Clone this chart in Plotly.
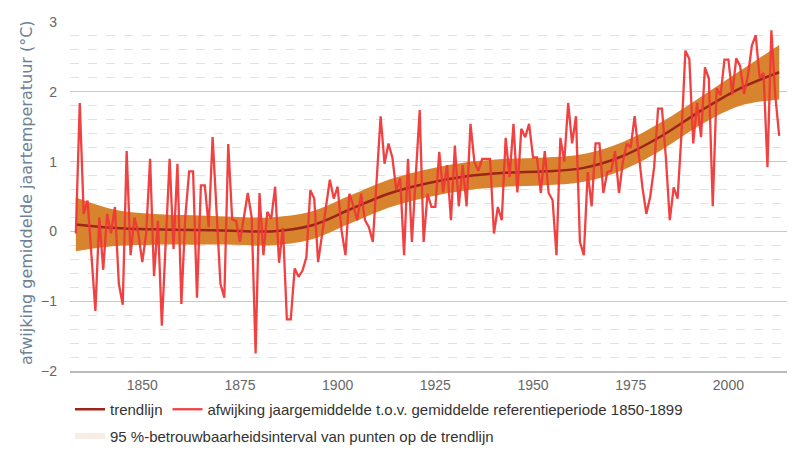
import plotly.graph_objects as go

# --- data -------------------------------------------------------------
years = list(range(1833, 2014))
anomaly = [
    -0.03, 1.84, 0.25, 0.44, -0.35, -1.14, 0.20, -0.55, 0.25, -0.03,
    0.35, -0.75, -1.05, 1.15, -0.34, 0.20, -0.03, -0.44, -0.03, 1.04,
    -0.64, 0.15, -1.35, -0.15, 1.04, -0.25, 0.97, -1.04, 0.20, 0.86,
    0.86, -0.95, 0.66, 0.66, 0.06, 1.35, 0.25, -0.75, -0.95, 1.25,
    0.17, 0.15, -0.15, 0.20, 0.55, 0.20, -1.75, 0.55, -0.34, 0.28,
    0.18, 0.64, -0.45, 0.05, -1.26, -1.26, -0.53, -0.65, -0.56, -0.37,
    0.59, 0.47, -0.44, -0.05, 0.35, 0.74, 0.47, 0.64, 0.01, -0.34,
    0.54, 0.37, 0.16, 0.54, 0.16, 0.06, -0.15, 0.75, 1.65, 0.97,
    1.26, 1.06, 0.59, 0.76, -0.34, 1.04, -0.15, 0.80, 1.74, -0.15,
    0.54, 0.35, 0.35, 1.14, 0.56, 0.95, 0.16, 1.23, 0.36, 0.95,
    0.36, 1.54, 0.99, 0.87, 1.04, 1.04, 1.04, -0.03, 0.35, 0.16,
    1.34, 0.78, 1.54, 0.56, 1.47, 1.35, 1.54, 1.06, 1.06, 0.55,
    1.15, 0.55, 0.45, -0.34, 1.34, 1.00, 1.84, 1.26, 1.65, -0.15,
    -0.34, 0.85, 0.36, 1.26, 1.26, 0.55, 0.85, 0.87, 1.15, 0.55,
    1.00, 1.26, 1.20, 1.65, 1.11, 0.63, 0.25, 0.50, 0.92, 1.76,
    1.76, 1.06, 0.16, 0.63, 0.47, 1.40, 2.59, 2.47, 1.26, 1.84,
    1.35, 2.35, 2.19, 0.36, 2.05, 1.95, 2.46, 2.46, 1.96, 2.48,
    2.37, 1.97, 2.23, 2.66, 2.81, 2.20, 2.27, 0.92, 2.88, 1.95,
    1.37,
]

trend_years = [1833, 1843, 1853, 1863, 1873, 1883, 1893, 1903, 1913, 1923,
               1933, 1943, 1953, 1963, 1973, 1983, 1993, 2003, 2013]
trend = [0.10, 0.05, 0.03, 0.02, 0.01, 0.00, 0.08, 0.31, 0.54, 0.69,
         0.79, 0.84, 0.86, 0.91, 1.08, 1.37, 1.73, 2.05, 2.28]
band_upper = [0.485, 0.31, 0.25, 0.23, 0.21, 0.20, 0.28, 0.51, 0.74, 0.89,
              0.99, 1.04, 1.06, 1.11, 1.28, 1.57, 1.93, 2.30, 2.67]
band_lower = [-0.285, -0.21, -0.19, -0.19, -0.19, -0.20, -0.12, 0.11, 0.34, 0.49,
              0.59, 0.64, 0.66, 0.71, 0.88, 1.17, 1.53, 1.80, 1.89]

x_ticks = [1850, 1875, 1900, 1925, 1950, 1975, 2000]
y_ticks = [-2, -1, 0, 1, 2, 3]

name_trend = "trendlijn"
name_anom = "afwijking jaargemiddelde t.o.v. gemiddelde referentieperiode 1850-1899"
name_band = "95 %-betrouwbaarheidsinterval van punten op de trendlijn"
y_title = "afwijking gemiddelde jaartemperatuur (°C)"

# --- styles -----------------------------------------------------------
RED = "#F03838"
DARKRED = "#9E2418"
ORANGE = "#D8842F"
SANS = "Liberation Sans, Arial, sans-serif"
LEGEND_FONT = dict(family=SANS, size=15, color="#333333")

fig = go.Figure()

fig.add_trace(go.Scatter(x=trend_years, y=band_lower, mode="lines",
                         line=dict(width=0, shape="spline"), showlegend=False,
                         hoverinfo="skip"))
fig.add_trace(go.Scatter(x=trend_years, y=band_upper, mode="lines",
                         line=dict(width=0, shape="spline"), fill="tonexty",
                         fillcolor=ORANGE, showlegend=False, hoverinfo="skip"))
fig.add_trace(go.Scatter(x=trend_years, y=trend, mode="lines", name=name_trend,
                         line=dict(color=DARKRED, width=2.5, shape="spline"),
                         legend="legend"))
fig.add_trace(go.Scatter(x=years, y=anomaly, mode="lines", name=name_anom,
                         line=dict(color=RED, width=2.3), opacity=0.95,
                         legend="legend"))
# legend entry for the confidence band (pale swatch as in the original)
fig.add_trace(go.Scatter(x=[None], y=[None], mode="none", fill="toself",
                         fillcolor="#F6EEE4", name=name_band, legend="legend2"))

fig.update_layout(
    width=800, height=462,
    margin=dict(l=70, r=13, t=22, b=91, autoexpand=False),
    paper_bgcolor="white", plot_bgcolor="white",
    font=dict(family=SANS, size=15, color="#333333"),
    showlegend=True,
    legend=dict(orientation="h", x=0.0, xanchor="left", y=-0.063, yanchor="top",
                traceorder="normal", font=LEGEND_FONT, itemwidth=30),
    legend2=dict(orientation="h", x=0.0, xanchor="left", y=-0.14, yanchor="top",
                 traceorder="normal", font=LEGEND_FONT, itemwidth=30),
)
fig.update_xaxes(
    range=[1831.5, 2015.0], tickvals=x_ticks, ticks="", showgrid=False,
    zeroline=False, showline=True, linecolor="#BBBBBB", linewidth=2,
    tickfont=dict(family=SANS, size=14, color="#666666"),
)
fig.update_yaxes(
    range=[-2, 3], tickvals=y_ticks, ticks="", showgrid=True,
    gridcolor="#C8C8C8", gridwidth=1, zeroline=False, showline=False,
    tickfont=dict(family=SANS, size=14, color="#666666"),
    ticklabelstandoff=12,
    minor=dict(dtick=0.2, showgrid=True, gridcolor="#E2E2E2", griddash="dash", gridwidth=1),
)
fig.add_annotation(
    text=y_title, textangle=-90, xref="paper", yref="paper",
    x=-0.06, y=0.513, xanchor="center", yanchor="middle", showarrow=False,
    font=dict(family="DejaVu Sans, Verdana, sans-serif", size=16, color="#6B8196"),
)

fig.write_html("out.html", config={"displayModeBar": False},
               post_script="document.body.style.margin='0px';")
